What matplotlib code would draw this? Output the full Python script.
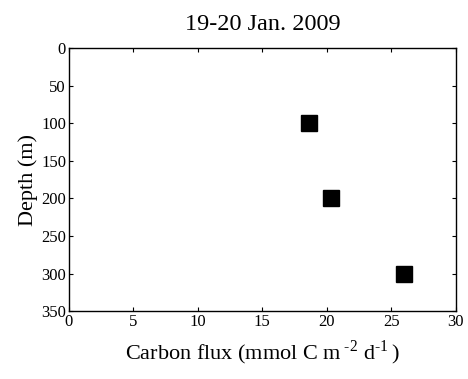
import numpy as np
import matplotlib.pyplot as plt

plt.rcParams['font.family'] = ['Liberation Serif', 'DejaVu Serif']
plt.rcParams['mathtext.fontset'] = 'custom'
plt.rcParams['mathtext.rm'] = 'Liberation Serif'

# Carbon flux at three depths
flux = [18.6, 20.3, 26.0]
depth = [100, 200, 300]

xticks = [0, 5, 10, 15, 20, 25, 30]
yticks = [0, 50, 100, 150, 200, 250, 300, 350]

fig = plt.figure(figsize=(4.68, 3.79), dpi=100)
ax = fig.add_axes([0.147, 0.179, 0.827, 0.694])

ax.plot(flux, depth, 's', color='black', markersize=11, linestyle='none')

ax.set_xlim(0, 30)
ax.set_ylim(350, 0)
ax.set_xticks(xticks)
ax.set_yticks(yticks)
ax.tick_params(direction='in', length=3, width=0.8, top=True, right=True,
               labelsize=12, pad=2)
for s in ax.spines.values():
    s.set_linewidth(1.0)

ax.set_xlabel(r'Carbon flux (mmol C m$\,^{\text{-2}}$ d$^{\text{-1}}\,$)',
              fontsize=16, labelpad=6)
ax.set_ylabel('Depth (m)', fontsize=16, labelpad=2)
ax.set_title('19-20 Jan. 2009', fontsize=17.5, pad=13)

fig.savefig('out.png', dpi=100)
